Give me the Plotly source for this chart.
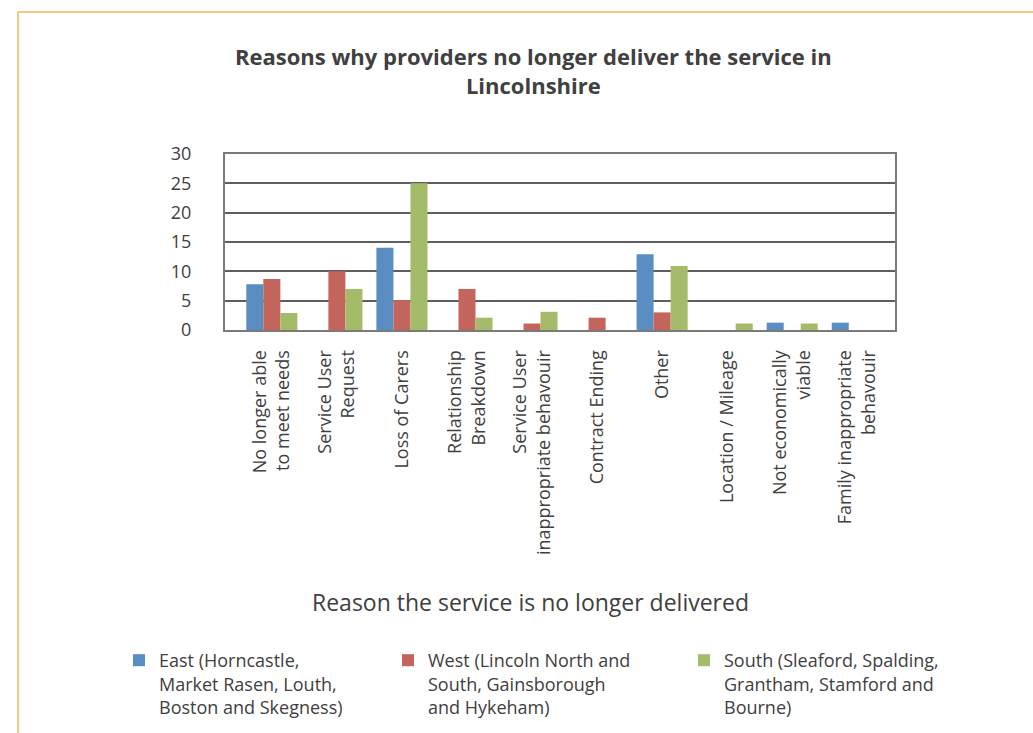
import plotly.graph_objects as go

categories = [
    "No longer able<br>to meet needs",
    "Service User<br>Request",
    "Loss of Carers",
    "Relationship<br>Breakdown",
    "Service User<br>inappropriate behavouir",
    "Contract Ending",
    "Other",
    "Location / Mileage",
    "Not economically<br>viable",
    "Family inappropriate<br>behavouir",
]
east = [7.8, 0, 14.0, 0, 0, 0, 12.9, 0, 1.25, 1.25]
west = [8.7, 10.0, 5.1, 7.0, 1.1, 2.1, 3.0, 0, 0, 0]
south = [2.9, 7.0, 25.0, 2.1, 3.1, 0, 10.9, 1.1, 1.1, 0]

series_names = [
    "East (Horncastle,<br>Market Rasen, Louth,<br>Boston and Skegness)",
    "West (Lincoln North and<br>South, Gainsborough<br>and Hykeham)",
    "South (Sleaford, Spalding,<br>Grantham, Stamford and<br>Bourne)",
]
colors = ["#5A8DC2", "#C4655D", "#A4BC69"]

W, H = 1033, 733
L, R, T, B = 225, 895, 154, 330
pw, ph = R - L, B - T


def px_x(x):
    return (x - L) / pw


def px_y(y):
    return (B - y) / ph


txt = "#404040"
font_family = "Open Sans, DejaVu Sans, sans-serif"

fig = go.Figure()
legends = ["legend", "legend2", "legend3"]
for vals, name, col, lg in zip([east, west, south], series_names, colors, legends):
    fig.add_trace(go.Bar(x=categories, y=vals, name=name, marker_color=col,
                         marker_line_width=0, legend=lg, showlegend=True))

leg_common = dict(orientation="v", yanchor="top", xanchor="left", valign="top", visible=True,
                  bgcolor="rgba(0,0,0,0)", font=dict(size=18, color=txt, family=font_family))

frame_col = "#F5C784"
shapes = [
    dict(type="line", xref="paper", yref="paper", x0=px_x(18), x1=px_x(1040),
         y0=px_y(12), y1=px_y(12), line=dict(color=frame_col, width=2)),
    dict(type="line", xref="paper", yref="paper", x0=px_x(18), x1=px_x(18),
         y0=px_y(12), y1=px_y(740), line=dict(color=frame_col, width=2)),
]

fig.update_layout(
    width=W, height=H,
    margin=dict(l=L, r=W - R, t=T, b=H - B, autoexpand=False),
    paper_bgcolor="white", plot_bgcolor="white",
    barmode="group", bargap=0.215, bargroupgap=0,
    showlegend=True,
    font=dict(family=font_family, color=txt),
    shapes=shapes,
    legend=dict(x=px_x(119), y=px_y(642), **leg_common),
    legend2=dict(x=px_x(388), y=px_y(642), **leg_common),
    legend3=dict(x=px_x(684), y=px_y(642), **leg_common),
    annotations=[
        dict(text="<b>Reasons why providers no longer deliver the service in<br>Lincolnshire</b>",
             xref="paper", yref="paper", x=px_x(533), y=px_y(71), xanchor="center", yanchor="middle",
             showarrow=False, font=dict(size=22, color=txt, family=font_family)),
        dict(text="Reason the service is no longer delivered",
             xref="paper", yref="paper", x=px_x(530), y=px_y(602), xanchor="center", yanchor="middle",
             showarrow=False, font=dict(size=23, color=txt, family=font_family)),
    ],
)

fig.update_xaxes(
    type="category", range=[-0.72, 9.58], tickangle=-90,
    tickfont=dict(size=18, color=txt), ticks="", ticklabelstandoff=11,
    showline=True, linecolor="#7a7a7a", linewidth=2, mirror=True,
    showgrid=False,
)
fig.update_yaxes(
    range=[0, 30], dtick=5, tickfont=dict(size=18, color=txt), ticks="",
    ticklabelstandoff=28,
    showline=True, linecolor="#7a7a7a", linewidth=2, mirror=True,
    showgrid=True, gridcolor="#5f5f5f", gridwidth=1.5, zeroline=False,
)

fig.write_html("out.html", config={"displayModeBar": False},
               post_script="document.body.style.margin='0';")
